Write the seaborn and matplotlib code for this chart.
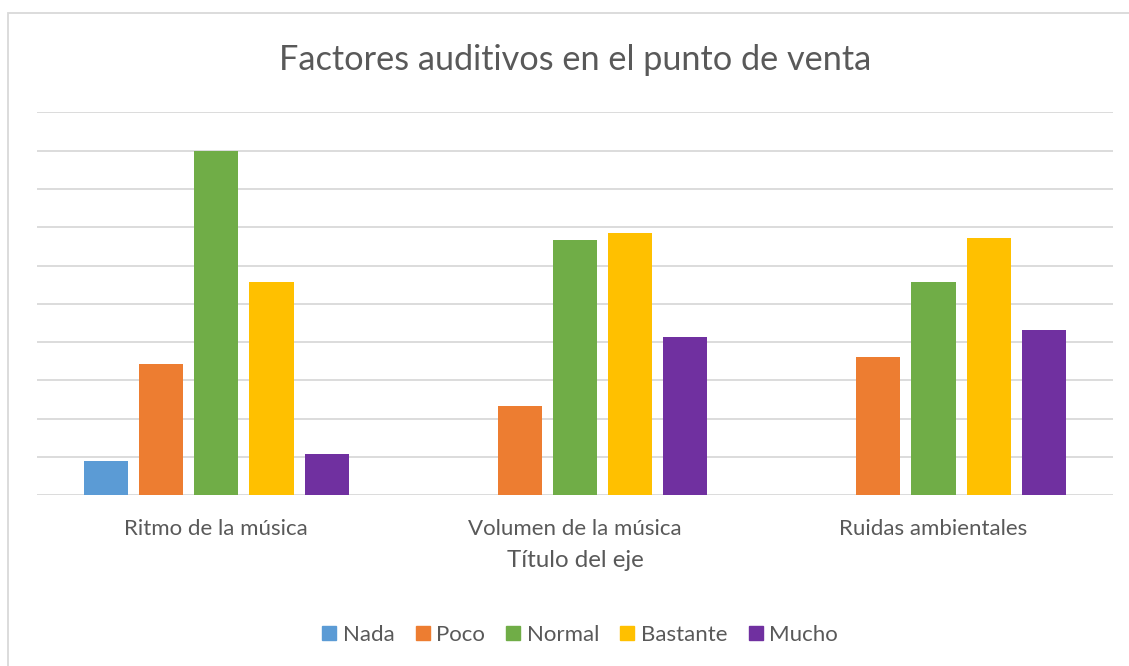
import numpy as np
import pandas as pd
import seaborn as sns
import matplotlib.pyplot as plt
from matplotlib.patches import Rectangle

categories = ["Ritmo de la música", "Volumen de la música", "Ruidas ambientales"]
levels = ["Nada", "Poco", "Normal", "Bastante", "Mucho"]
nada = [4.5, 0, 0]
poco = [17.1, 11.7, 18.0]
normal = [45.0, 33.3, 27.9]
bastante = [27.9, 34.2, 33.6]
mucho = [5.4, 20.7, 21.6]
colors = ["#5B9BD5", "#ED7D31", "#70AD47", "#FFC000", "#7030A0"]

series = {"Nada": nada, "Poco": poco, "Normal": normal, "Bastante": bastante, "Mucho": mucho}
rows = []
for lvl in levels:
    for cat, v in zip(categories, series[lvl]):
        rows.append({"Categoría": cat, "Nivel": lvl, "Valor": v})
df = pd.DataFrame(rows)

sns.set_theme(style="white")
plt.rcParams['font.family'] = ['Lato', 'DejaVu Sans']

W, H = 1129, 666
fig = plt.figure(figsize=(W / 100, H / 100), dpi=100)
ax = fig.add_axes([37 / W, 1 - 495.3 / H, (1112.7 - 37) / W, (495.3 - 112.3) / H])

sns.barplot(data=df, x="Categoría", y="Valor", hue="Nivel", order=categories,
            hue_order=levels, palette=colors, saturation=1, width=0.77, gap=0.2,
            linewidth=0, errorbar=None, legend=False, ax=ax, zorder=2)

ax.set_xlim(-0.5, 2.5)
ax.set_ylim(0, 50)
ax.set_yticks(np.arange(0, 51, 5))
ax.yaxis.grid(True, color="#D9D9D9", linewidth=1.3)
ax.set_axisbelow(True)
ax.tick_params(axis='y', left=False, labelleft=False)
ax.tick_params(axis='x', bottom=False, colors="#595959", labelsize=16, pad=11)
for s in ax.spines.values():
    s.set_visible(False)
ax.set_xlabel("")
ax.set_ylabel("")

fig.text(575 / W, 1 - 69.5 / H, "Factores auditivos en el punto de venta",
         ha="center", va="baseline", fontsize=24.7, color="#595959")
fig.text(575 / W, 1 - 567 / H, "Título del eje", ha="center", va="baseline",
         fontsize=17.4, color="#595959")

handles = [Rectangle((0, 0), 1, 1, color=c) for c in colors]
fig.legend(handles, levels, loc="center", bbox_to_anchor=(580 / W, 1 - 635 / H),
           ncol=5, frameon=False, handlelength=0.63, handleheight=0.63,
           handletextpad=0.3, columnspacing=0.95, fontsize=16, labelcolor="#595959",
           borderpad=0, borderaxespad=0)

fig.patches.append(Rectangle((7.5 / W, -0.1), 1.2, 1.1 - 13 / H, transform=fig.transFigure,
                             fill=False, edgecolor="#D9D9D9", linewidth=1.3))

fig.savefig("out.png", dpi=100, facecolor="white")
